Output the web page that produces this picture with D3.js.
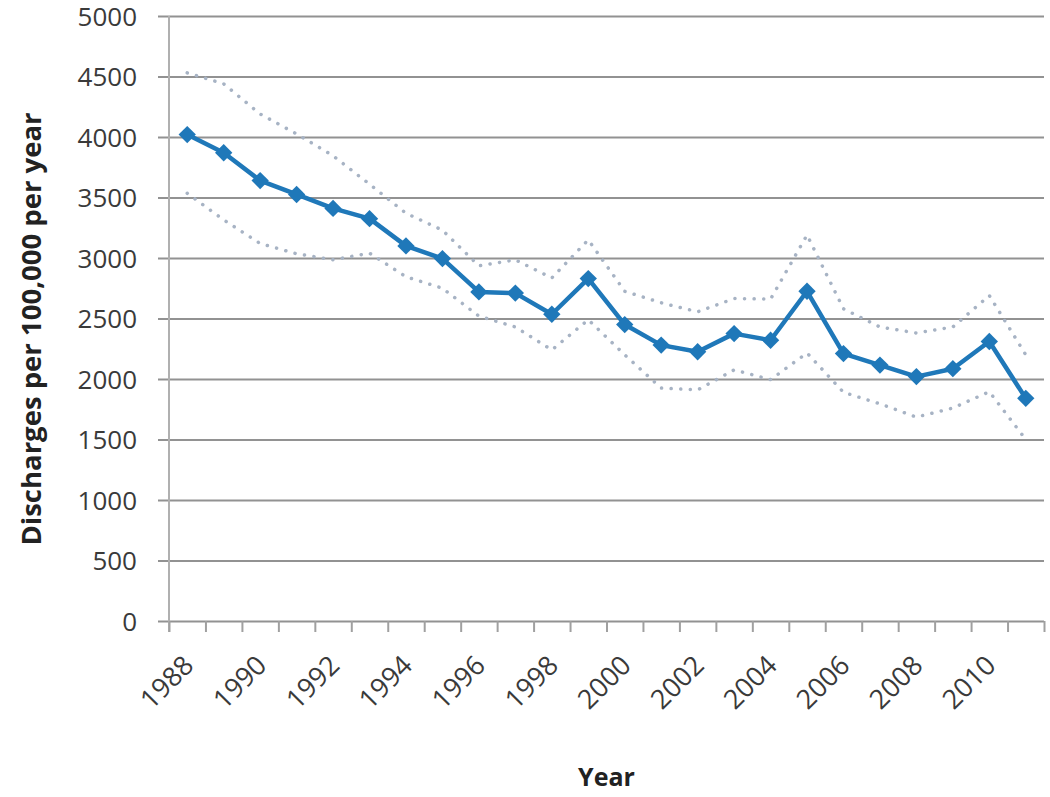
<!DOCTYPE html>
<html>
<head>
<meta charset="utf-8">
<script src="https://cdn.jsdelivr.net/npm/d3@7"></script>
<style>
  body { margin: 0; background: #fff; }
  svg { display: block; }
</style>
</head>
<body>
<div id="chart"></div>
<script>
// hospital discharges, rate with upper / lower bounds
const years = d3.range(1988, 2012);
const rate  = [4020, 3870, 3640, 3525, 3410, 3325, 3100, 2995, 2720, 2710, 2535, 2830,
               2450, 2280, 2225, 2375, 2320, 2725, 2210, 2115, 2020, 2085, 2310, 1840];
const upper = [4530, 4440, 4190, 4025, 3845, 3610, 3370, 3230, 2935, 2985, 2835, 3150,
               2725, 2630, 2555, 2665, 2660, 3190, 2580, 2430, 2380, 2430, 2690, 2200];
const lower = [3535, 3315, 3120, 3035, 2985, 3040, 2845, 2750, 2520, 2430, 2240, 2490,
               2200, 1925, 1910, 2075, 1995, 2215, 1890, 1795, 1685, 1760, 1895, 1500];
const yTicks = d3.range(0, 5001, 500);
const xLabels = years.filter(y => y % 2 === 0);

const width = 1050, height = 797;
const plot = { left: 169, right: 1044, top: 16, bottom: 621 };

const svg = d3.select('#chart').append('svg')
  .attr('width', width)
  .attr('height', height);

const x = d3.scaleLinear()
  .domain([1987.5, 2011.5])
  .range([plot.left, plot.right]);

const y = d3.scaleLinear()
  .domain([0, 5000])
  .range([plot.bottom, plot.top]);

// gridlines + y labels
const yAxis = svg.append('g')
  .attr('transform', `translate(${plot.left},0)`)
  .call(d3.axisLeft(y)
    .tickValues(yTicks)
    .tickFormat(d3.format('d'))
    .tickSizeInner(-(plot.right - plot.left))
    .tickSizeOuter(0)
    .tickPadding(32));
yAxis.select('.domain').remove();
yAxis.selectAll('.tick line')
  .attr('x1', -11)
  .attr('stroke', '#929292')
  .attr('stroke-width', 2);
yAxis.selectAll('.tick text')
  .attr('fill', '#3a3a3a')
  .attr('dy', '0.36em')
  .style('font-family', '"Open Sans", sans-serif')
  .style('font-size', '26px');

// vertical axis line
svg.append('line')
  .attr('x1', plot.left).attr('x2', plot.left)
  .attr('y1', plot.top).attr('y2', plot.bottom + 11)
  .attr('stroke', '#b0b0b0')
  .attr('stroke-width', 2);

// x axis ticks at the category boundaries
const xAxis = svg.append('g')
  .attr('transform', `translate(0,${plot.bottom})`)
  .call(d3.axisBottom(x).tickValues(d3.range(1987.5, 2012, 1)).tickSize(11).tickFormat(''));
xAxis.select('.domain').remove();
xAxis.selectAll('.tick line')
  .attr('stroke', '#a0a0a0')
  .attr('stroke-width', 2);

svg.selectAll('.xlabel')
  .data(xLabels)
  .enter().append('text')
  .attr('class', 'xlabel')
  .attr('transform', d => `translate(${x(d) + 8},${plot.bottom + 46}) rotate(-45)`)
  .attr('text-anchor', 'end')
  .attr('fill', '#3a3a3a')
  .style('font-family', '"Open Sans", sans-serif')
  .style('font-size', '27px')
  .text(d => d);

// confidence bounds
const line = d3.line()
  .x((d, i) => x(years[i]))
  .y(d => y(d));

[upper, lower].forEach(series => {
  svg.append('path')
    .datum(series)
    .attr('fill', 'none')
    .attr('stroke', '#a7b3c4')
    .attr('stroke-width', 3.5)
    .attr('stroke-linecap', 'round')
    .attr('stroke-dasharray', '0.1 9.5')
    .attr('d', line);
});

// main series
svg.append('path')
  .datum(rate)
  .attr('fill', 'none')
  .attr('stroke', '#1f78b9')
  .attr('stroke-width', 4.5)
  .attr('stroke-linejoin', 'round')
  .attr('d', line);

const diamond = d3.symbol().type(d3.symbolSquare).size(150);
svg.selectAll('.marker')
  .data(rate)
  .enter().append('path')
  .attr('class', 'marker')
  .attr('transform', (d, i) => `translate(${x(years[i])},${y(d)}) rotate(45)`)
  .attr('d', diamond)
  .attr('fill', '#1f78b9');

// axis titles
svg.append('text')
  .attr('transform', `translate(41,329) rotate(-90)`)
  .attr('text-anchor', 'middle')
  .attr('fill', '#222')
  .style('font-family', '"Open Sans", sans-serif')
  .style('font-weight', 'bold')
  .style('font-size', '27.5px')
  .text('Discharges per 100,000 per year');

svg.append('text')
  .attr('x', (plot.left + plot.right) / 2)
  .attr('y', 786)
  .attr('text-anchor', 'middle')
  .attr('fill', '#222')
  .style('font-family', '"Open Sans", sans-serif')
  .style('font-weight', 'bold')
  .style('font-size', '25px')
  .text('Year');
</script>
</body>
</html>
